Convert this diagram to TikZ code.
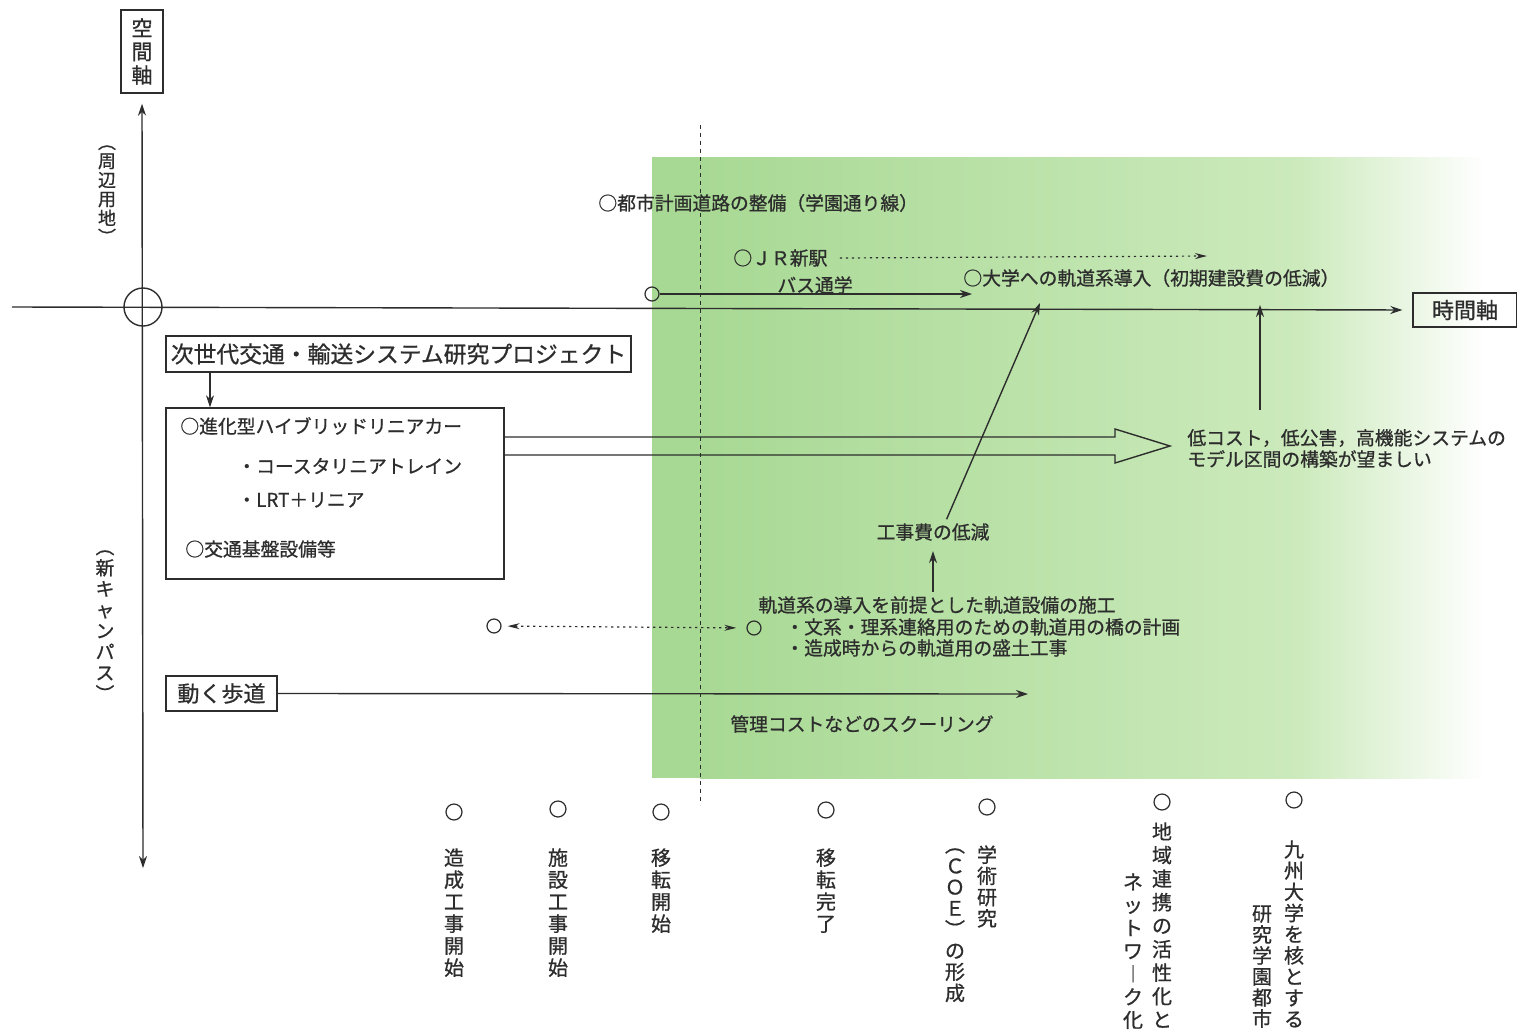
\documentclass[tikz,border=0pt]{standalone}
\usepackage{fontspec}
\newfontfamily\cjk[FakeBold=0.8]{Noto Sans CJK JP}
\usetikzlibrary{arrows.meta}
\definecolor{gA}{RGB}{168,217,148}
\definecolor{gB}{RGB}{204,234,188}
\definecolor{ink}{RGB}{45,45,45}
\begin{document}
\begin{tikzpicture}[x=0.5pt,y=-0.5pt,
  every node/.style={font=\cjk\fontsize{9.4}{11}\selectfont, text=ink, inner sep=0pt},
  lbl/.style={anchor=west},
  box/.style={draw=ink, line width=0.7pt, inner sep=0pt},
  ln/.style={draw=ink, line width=0.7pt},
  arr/.style={ln, -{Stealth[length=6pt,width=4pt]}},
  dots/.style={ln, line width=0.6pt, dash pattern=on 1.2pt off 1.8pt},
  mk/.style={circle, draw=ink, line width=0.6pt, minimum size=7pt},
  vcol/.style={anchor=north, align=center, font=\cjk\fontsize{10}{11}\selectfont},
]
\useasboundingbox (0,0) rectangle (1517,1034);
\fill[white] (0,0) rectangle (1517,1034);
% green field
\fill[gA] (652,157) rectangle (701,778);
\shade[left color=gA, right color=gB] (700,157) rectangle (1300,778);
\shade[left color=gB, right color=white] (1299,157) rectangle (1485,778);
% dashed vertical line
\coordinate (dtop) at (700,125);
\coordinate (dbot) at (700,805);
\draw[ln, line width=0.5pt, dash pattern=on 2pt off 2pt] (dtop) -- (dbot);
% axes
\node[box, minimum width=21pt, minimum height=41.5pt, align=center, font=\cjk\fontsize{10.5}{11.75}\selectfont] (space) at (142,51.5) {空\\間\\軸};
\node[box, minimum width=52pt, minimum height=17pt, font=\cjk\fontsize{11}{13}\selectfont] (time) at (1465,310) {時間軸};
\node[circle, draw=ink, line width=0.7pt, minimum size=19pt] (origin) at (143,307) {};
\coordinate (vbot) at (143,868);
\coordinate (hleft) at (12,307);
\draw[ln, {Stealth[length=6pt,width=4pt]}-{Stealth[length=6pt,width=4pt]}, shorten <=5pt] (space.south) -- (vbot);
\draw[arr, shorten >=5pt] (hleft) -- (time.west);
% axis side labels
\node[vcol, font=\cjk\fontsize{9}{9.5}\selectfont] (shuhen) at (107,145) {︵\\周\\辺\\用\\地\\︶};
\node[vcol, font=\cjk\fontsize{9.4}{10.5}\selectfont] (shincamp) at (105,550) {︵\\新\\キ\\ャ\\ン\\パ\\ス\\︶};
% top texts
\node[lbl] (toshi) at (598,203) {○都市計画道路の整備（学園通り線）};
\node[lbl] (jr) at (733,258) {○ＪＲ新駅};
\coordinate (jrend) at (1207,256);
\draw[dots, -{Stealth[length=6pt,width=3pt]}] ([xshift=6pt]jr.east) -- (jrend);
\node[mk] (bus0) at (652,294) {};
\coordinate (busend) at (972,294);
\draw[arr] (bus0) -- (busend);
\node (bustxt) at (815,285) {バス通学};
\node[lbl] (daigaku) at (963,278) {○大学への軌道系導入（初期建設費の低減）};
% right texts and arrows
\node[lbl] (tei1) at (1187,438) {低コスト，低公害，高機能システムの};
\node[lbl] (tei2) at (1187,459) {モデル区間の構築が望ましい};
\coordinate (ax1) at (1260,305);
\coordinate (s1) at (1260,410);
\draw[arr] (s1) -- (ax1);
\node (koujihi) at (933,532) {工事費の低減};
\coordinate (ax2) at (1040,303);
\draw[arr, shorten <=2pt] ([xshift=6pt]koujihi.north) -- (ax2);
\node[lbl] (kidou) at (758,605) {軌道系の導入を前提とした軌道設備の施工};
\draw[arr, shorten <=2pt, shorten >=5pt] (koujihi.south |- kidou.north) -- (koujihi.south);
\node[lbl] (bun) at (785,627) {・文系・理系連絡用のための軌道用の橋の計画};
\node[lbl] (zousei) at (785,648) {・造成時からの軌道用の盛土工事};
\node[mk] (c1) at (494,626) {};
\node[mk] (c2) at (754,628) {};
\draw[dots, {Stealth[length=6pt,width=3pt]}-{Stealth[length=6pt,width=3pt]}, shorten <=3pt, shorten >=5pt] (c1) -- (c2);
% project boxes
\node[box, minimum width=232.5pt, minimum height=18pt, font=\cjk\fontsize{11.4}{13}\selectfont] (proj) at (398.5,354) {次世代交通・輸送システム研究プロジェクト};
\node[box, minimum width=169pt, minimum height=85.5pt] (pbox) at (335,493.5) {};
\coordinate (pa) at (210,0);
\draw[arr] (proj.south -| pa) -- (pbox.north -| pa);
\node[lbl] (b1) at (180,426) {○進化型ハイブリッドリニアカー};
\node[lbl] (b2) at (237,466) {・コースタリニアトレイン};
\node[lbl] (b3) at (237,500) {・LRT＋リニア};
\node[lbl] (b4) at (185,549) {○交通基盤設備等};
% hollow arrow
\coordinate (h1) at (0,437);
\coordinate (h2) at (0,455);
\draw[ln] (pbox.east |- h1) -- (1115,437) -- (1115,429) -- (1170,446) -- (1115,463) -- (1115,455) -- (pbox.east |- h2);
% moving walkway
\node[box, minimum width=55.5pt, minimum height=17.5pt, font=\cjk\fontsize{11}{13}\selectfont] (walk) at (221.5,693.5) {動く歩道};
\coordinate (walkend) at (1028,694);
\draw[arr] (walk.east) -- (walkend);
\node[lbl] (kanri) at (730,724) {管理コストなどのスクーリング};
% milestones
\node[mk, minimum size=8pt] (m1) at (454,812) {};
\node[vcol] (v1) at (454,848) {造\\成\\工\\事\\開\\始};
\node[mk, minimum size=8pt] (m2) at (558,809) {};
\node[vcol] (v2) at (558,848) {施\\設\\工\\事\\開\\始};
\node[mk, minimum size=8pt] (m3) at (661,812) {};
\node[vcol] (v3) at (661,848) {移\\転\\開\\始};
\node[mk, minimum size=8pt] (m4) at (826,810) {};
\node[vcol] (v4) at (826,848) {移\\転\\完\\了};
\node[mk, minimum size=8pt] (m5) at (987,807) {};
\node[vcol, font=\cjk\fontsize{10}{10.6}\selectfont] (v5) at (987,845) {学\\術\\研\\究};
\node[vcol, font=\cjk\fontsize{10}{10.6}\selectfont] (v5b) at (955,848) {︵\\Ｃ\\Ｏ\\Ｅ\\︶\\の\\形\\成};
\node[mk, minimum size=8pt] (m6) at (1162,802) {};
\node[vcol, font=\cjk\fontsize{10}{11.75}\selectfont] (v6) at (1162,822) {地\\域\\連\\携\\の\\活\\性\\化\\と};
\node[vcol, font=\cjk\fontsize{10}{11.5}\selectfont] (v6b) at (1133,873) {ネ\\ッ\\ト\\ワ\\︱\\ク\\化};
\node[mk, minimum size=8pt] (m7) at (1294,800) {};
\node[vcol, font=\cjk\fontsize{10}{10.6}\selectfont] (v7) at (1294,840) {九\\州\\大\\学\\を\\核\\と\\す\\る};
\node[vcol, font=\cjk\fontsize{10}{10.5}\selectfont] (v7b) at (1262,905) {研\\究\\学\\園\\都\\市};
\end{tikzpicture}
\end{document}
